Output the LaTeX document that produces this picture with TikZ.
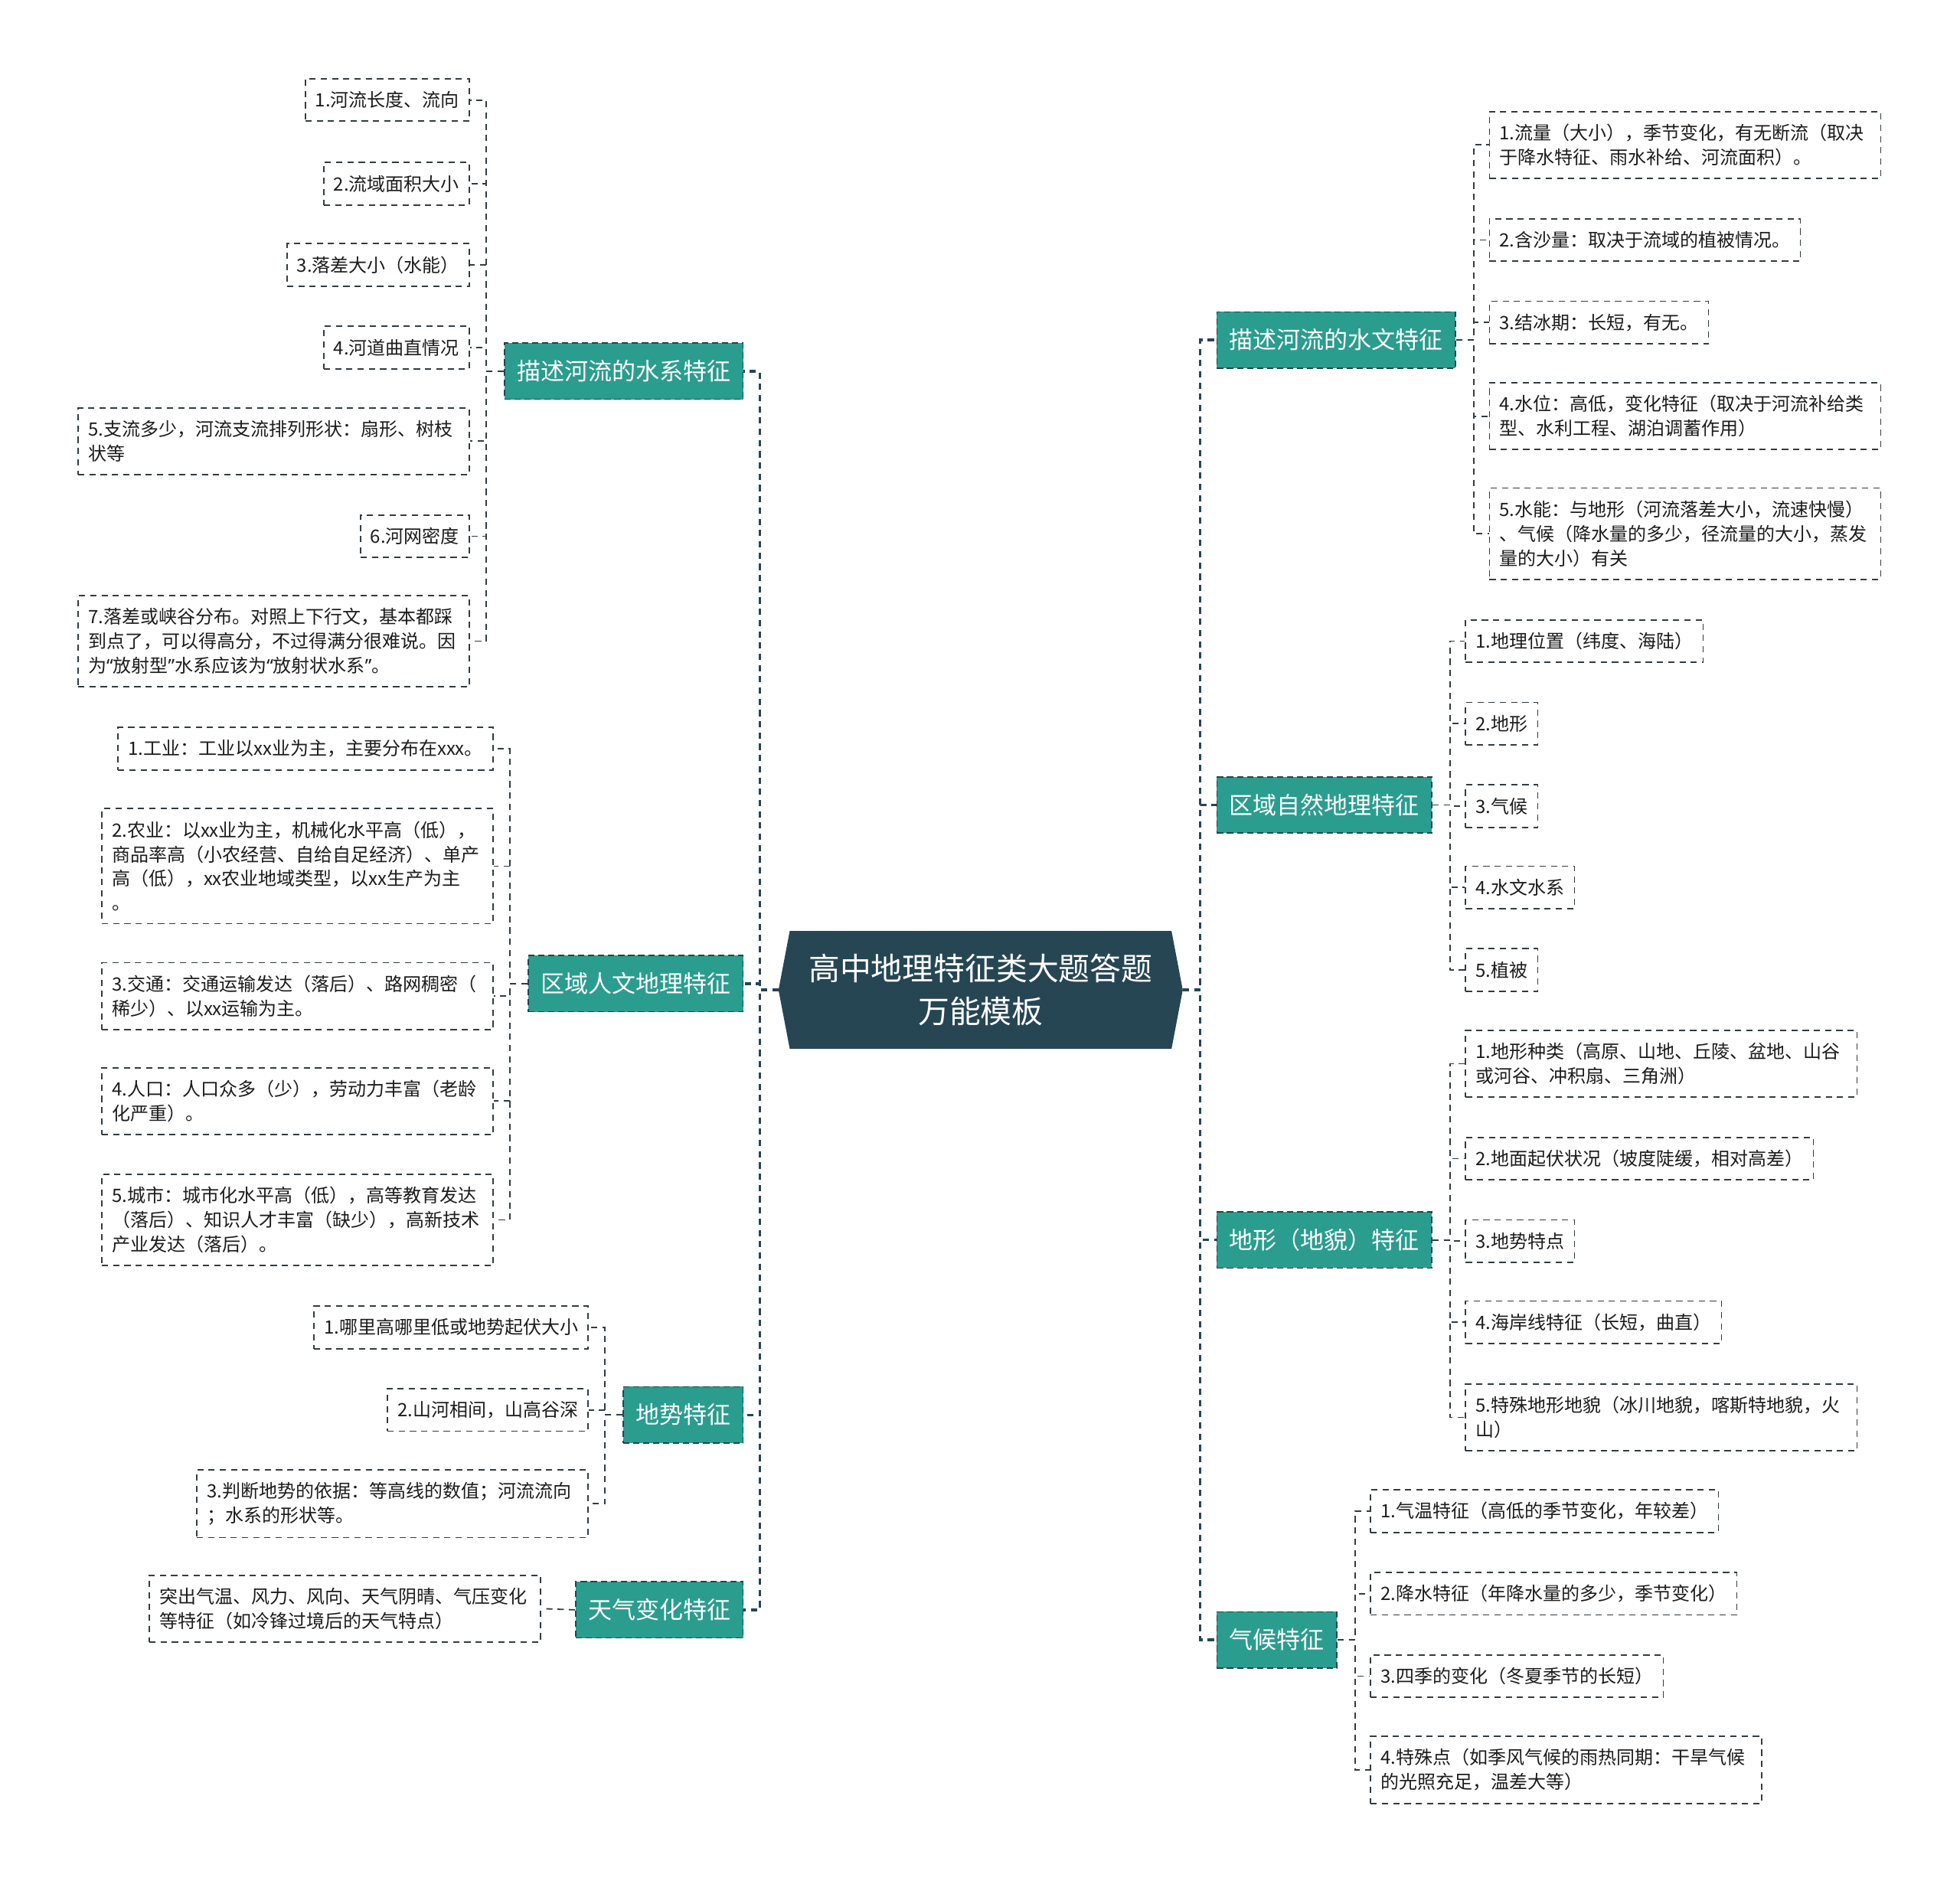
\documentclass[tikz,border=0pt]{standalone}
\usepackage{fontspec}
\setmainfont{Noto Sans CJK SC}
\newfontfamily\latinq{Noto Sans}
\usepackage{tikz}
\usetikzlibrary{positioning, calc, backgrounds}

\definecolor{rootslate}{RGB}{38, 70, 83}
\definecolor{topicteal}{RGB}{42, 157, 143}
\definecolor{topicedge}{RGB}{30, 72, 72}
\definecolor{leafedge}{RGB}{50, 60, 66}
\definecolor{leaftext}{RGB}{28, 28, 28}

\tikzset{
  leafbox/.style={draw=leafedge, line width=1.1pt, dash pattern=on 5pt off 4pt, fill=white,
    text=leaftext, font=\fontsize{14.7}{19.5}\selectfont, inner xsep=8pt, inner ysep=10pt,
    minimum height=34pt, align=left},
  wideleaf/.style={leafbox, text width=297pt},
  topicbox/.style={draw=topicedge, line width=1pt, dash pattern=on 5pt off 3pt, fill=topicteal,
    text=white, font=\fontsize{19}{23}\selectfont, inner xsep=10pt, minimum height=45pt},
  rootbox/.style={text=white, font=\fontsize{25}{34}\selectfont, align=center,
    minimum width=305pt, minimum height=94pt},
  spine/.style={draw=rootslate, line width=2pt, dash pattern=on 5pt off 4pt},
  twig/.style={draw=leafedge, line width=1.1pt, dash pattern=on 5pt off 4pt}
}

\begin{document}
\begin{tikzpicture}[x=1pt, y=-1pt]
  \useasboundingbox (0,0) rectangle (1568,1507);

  % Root
  \node[rootbox] (root) at (784.5, 792) {高中地理特征类大题答题\\万能模板};
  \coordinate (rootL) at ($(root.west)+(-9,0)$);
  \coordinate (rootR) at ($(root.east)+(9,0)$);
  \begin{scope}[on background layer]
    \fill[rootslate] (rootL) -- (root.north west) -- (root.north east) -- (rootR)
      -- (root.south east) -- (root.south west) -- cycle;
  \end{scope}

  % Left topics
  \node[topicbox, anchor=east] (m1) at (595, 297) {描述河流的水系特征};
  \node[topicbox, anchor=east] (m2) at (595, 787) {区域人文地理特征};
  \node[topicbox, anchor=east] (m3) at (595, 1132) {地势特征};
  \node[topicbox, anchor=east] (m4) at (595, 1288) {天气变化特征};

  % Right topics
  \node[topicbox, anchor=west] (n1) at (973, 272) {描述河流的水文特征};
  \node[topicbox, anchor=west] (n2) at (973, 644) {区域自然地理特征};
  \node[topicbox, anchor=west] (n3) at (973, 992) {地形（地貌）特征};
  \node[topicbox, anchor=west] (n4) at (973, 1312) {气候特征};

  % Water system
  \node[leafbox, anchor=east] (a1) at (376, 80) {1.河流长度、流向};
  \node[leafbox, anchor=east] (a2) at (376, 147) {2.流域面积大小};
  \node[leafbox, anchor=east] (a3) at (376, 212) {3.落差大小（水能）};
  \node[leafbox, anchor=east] (a4) at (376, 278) {4.河道曲直情况};
  \node[wideleaf, anchor=east] (a5) at (376, 353) {5.支流多少，河流支流排列形状：扇形、树枝\\状等};
  \node[leafbox, anchor=east] (a6) at (376, 429) {6.河网密度};
  \node[wideleaf, anchor=east] (a7) at (376, 513) {7.落差或峡谷分布。对照上下行文，基本都踩\\到点了，可以得高分，不过得满分很难说。因\\为{\latinq “}放射型{\latinq ”}水系应该为{\latinq “}放射状水系{\latinq ”}。};

  % Human geography
  \node[leafbox, anchor=east] (b1) at (395, 599) {1.工业：工业以xx业为主，主要分布在xxx。};
  \node[wideleaf, anchor=east] (b2) at (395, 693) {2.农业：以xx业为主，机械化水平高（低），\\商品率高（小农经营、自给自足经济）、单产\\高（低），xx农业地域类型，以xx生产为主\\。};
  \node[wideleaf, anchor=east] (b3) at (395, 797) {3.交通：交通运输发达（落后）、路网稠密（\\稀少）、以xx运输为主。};
  \node[wideleaf, anchor=east] (b4) at (395, 881) {4.人口：人口众多（少），劳动力丰富（老龄\\化严重）。};
  \node[wideleaf, anchor=east] (b5) at (395, 976) {5.城市：城市化水平高（低），高等教育发达\\（落后）、知识人才丰富（缺少），高新技术\\产业发达（落后）。};

  % Terrain trend
  \node[leafbox, anchor=east] (c1) at (471, 1062) {1.哪里高哪里低或地势起伏大小};
  \node[leafbox, anchor=east] (c2) at (471, 1128) {2.山河相间，山高谷深};
  \node[wideleaf, anchor=east] (c3) at (471, 1203) {3.判断地势的依据：等高线的数值；河流流向\\；水系的形状等。};

  % Weather
  \node[wideleaf, anchor=east] (d1) at (433, 1287) {突出气温、风力、风向、天气阴晴、气压变化\\等特征（如冷锋过境后的天气特点）};

  % Hydrology
  \node[wideleaf, anchor=west] (e1) at (1191, 116) {1.流量（大小），季节变化，有无断流（取决\\于降水特征、雨水补给、河流面积）。};
  \node[leafbox, anchor=west] (e2) at (1191, 192) {2.含沙量：取决于流域的植被情况。};
  \node[leafbox, anchor=west] (e3) at (1191, 258) {3.结冰期：长短，有无。};
  \node[wideleaf, anchor=west] (e4) at (1191, 333) {4.水位：高低，变化特征（取决于河流补给类\\型、水利工程、湖泊调蓄作用）};
  \node[wideleaf, anchor=west] (e5) at (1191, 427) {5.水能：与地形（河流落差大小，流速快慢）\\、气候（降水量的多少，径流量的大小，蒸发\\量的大小）有关};

  % Natural geography
  \node[leafbox, anchor=west] (f1) at (1172, 513) {1.地理位置（纬度、海陆）};
  \node[leafbox, anchor=west] (f2) at (1172, 579) {2.地形};
  \node[leafbox, anchor=west] (f3) at (1172, 645) {3.气候};
  \node[leafbox, anchor=west] (f4) at (1172, 710) {4.水文水系};
  \node[leafbox, anchor=west] (f5) at (1172, 776) {5.植被};

  % Landforms
  \node[wideleaf, anchor=west] (g1) at (1172, 851) {1.地形种类（高原、山地、丘陵、盆地、山谷\\或河谷、冲积扇、三角洲）};
  \node[leafbox, anchor=west] (g2) at (1172, 927) {2.地面起伏状况（坡度陡缓，相对高差）};
  \node[leafbox, anchor=west] (g3) at (1172, 993) {3.地势特点};
  \node[leafbox, anchor=west] (g4) at (1172, 1058) {4.海岸线特征（长短，曲直）};
  \node[wideleaf, anchor=west] (g5) at (1172, 1134) {5.特殊地形地貌（冰川地貌，喀斯特地貌，火\\山）};

  % Climate
  \node[leafbox, anchor=west] (h1) at (1096, 1209) {1.气温特征（高低的季节变化，年较差）};
  \node[leafbox, anchor=west] (h2) at (1096, 1275) {2.降水特征（年降水量的多少，季节变化）};
  \node[leafbox, anchor=west] (h3) at (1096, 1341) {3.四季的变化（冬夏季节的长短）};
  \node[wideleaf, anchor=west] (h4) at (1096, 1416) {4.特殊点（如季风气候的雨热同期：干旱气候\\的光照充足，温差大等）};

  % Spines
  \draw[spine] (rootL) -- ++(-15,0) |- (m1.east);
  \draw[spine] (rootL) -- ++(-15,0) |- (m2.east);
  \draw[spine] (rootL) -- ++(-15,0) |- (m3.east);
  \draw[spine] (rootL) -- ++(-15,0) |- (m4.east);
  \draw[spine] (rootR) -- ++(14,0) |- (n1.west);
  \draw[spine] (rootR) -- ++(14,0) |- (n2.west);
  \draw[spine] (rootR) -- ++(14,0) |- (n3.west);
  \draw[spine] (rootR) -- ++(14,0) |- (n4.west);

  % Twigs, left
  \draw[twig] (m1.west) -- ++(-14,0) |- (a1.east);
  \draw[twig] (m1.west) -- ++(-14,0) |- (a2.east);
  \draw[twig] (m1.west) -- ++(-14,0) |- (a3.east);
  \draw[twig] (m1.west) -- ++(-14,0) |- (a4.east);
  \draw[twig] (m1.west) -- ++(-14,0) |- (a5.east);
  \draw[twig] (m1.west) -- ++(-14,0) |- (a6.east);
  \draw[twig] (m1.west) -- ++(-14,0) |- (a7.east);
  \draw[twig] (m2.west) -- ++(-14,0) |- (b1.east);
  \draw[twig] (m2.west) -- ++(-14,0) |- (b2.east);
  \draw[twig] (m2.west) -- ++(-14,0) |- (b3.east);
  \draw[twig] (m2.west) -- ++(-14,0) |- (b4.east);
  \draw[twig] (m2.west) -- ++(-14,0) |- (b5.east);
  \draw[twig] (m3.west) -- ++(-14,0) |- (c1.east);
  \draw[twig] (m3.west) -- ++(-14,0) |- (c2.east);
  \draw[twig] (m3.west) -- ++(-14,0) |- (c3.east);
  \draw[twig] (m4.west) -- (d1.east);

  % Twigs, right
  \draw[twig] (n1.east) -- ++(14,0) |- (e1.west);
  \draw[twig] (n1.east) -- ++(14,0) |- (e2.west);
  \draw[twig] (n1.east) -- ++(14,0) |- (e3.west);
  \draw[twig] (n1.east) -- ++(14,0) |- (e4.west);
  \draw[twig] (n1.east) -- ++(14,0) |- (e5.west);
  \draw[twig] (n2.east) -- ++(14,0) |- (f1.west);
  \draw[twig] (n2.east) -- ++(14,0) |- (f2.west);
  \draw[twig] (n2.east) -- ++(14,0) |- (f3.west);
  \draw[twig] (n2.east) -- ++(14,0) |- (f4.west);
  \draw[twig] (n2.east) -- ++(14,0) |- (f5.west);
  \draw[twig] (n3.east) -- ++(14,0) |- (g1.west);
  \draw[twig] (n3.east) -- ++(14,0) |- (g2.west);
  \draw[twig] (n3.east) -- ++(14,0) |- (g3.west);
  \draw[twig] (n3.east) -- ++(14,0) |- (g4.west);
  \draw[twig] (n3.east) -- ++(14,0) |- (g5.west);
  \draw[twig] (n4.east) -- ++(14,0) |- (h1.west);
  \draw[twig] (n4.east) -- ++(14,0) |- (h2.west);
  \draw[twig] (n4.east) -- ++(14,0) |- (h3.west);
  \draw[twig] (n4.east) -- ++(14,0) |- (h4.west);
\end{tikzpicture}
\end{document}
